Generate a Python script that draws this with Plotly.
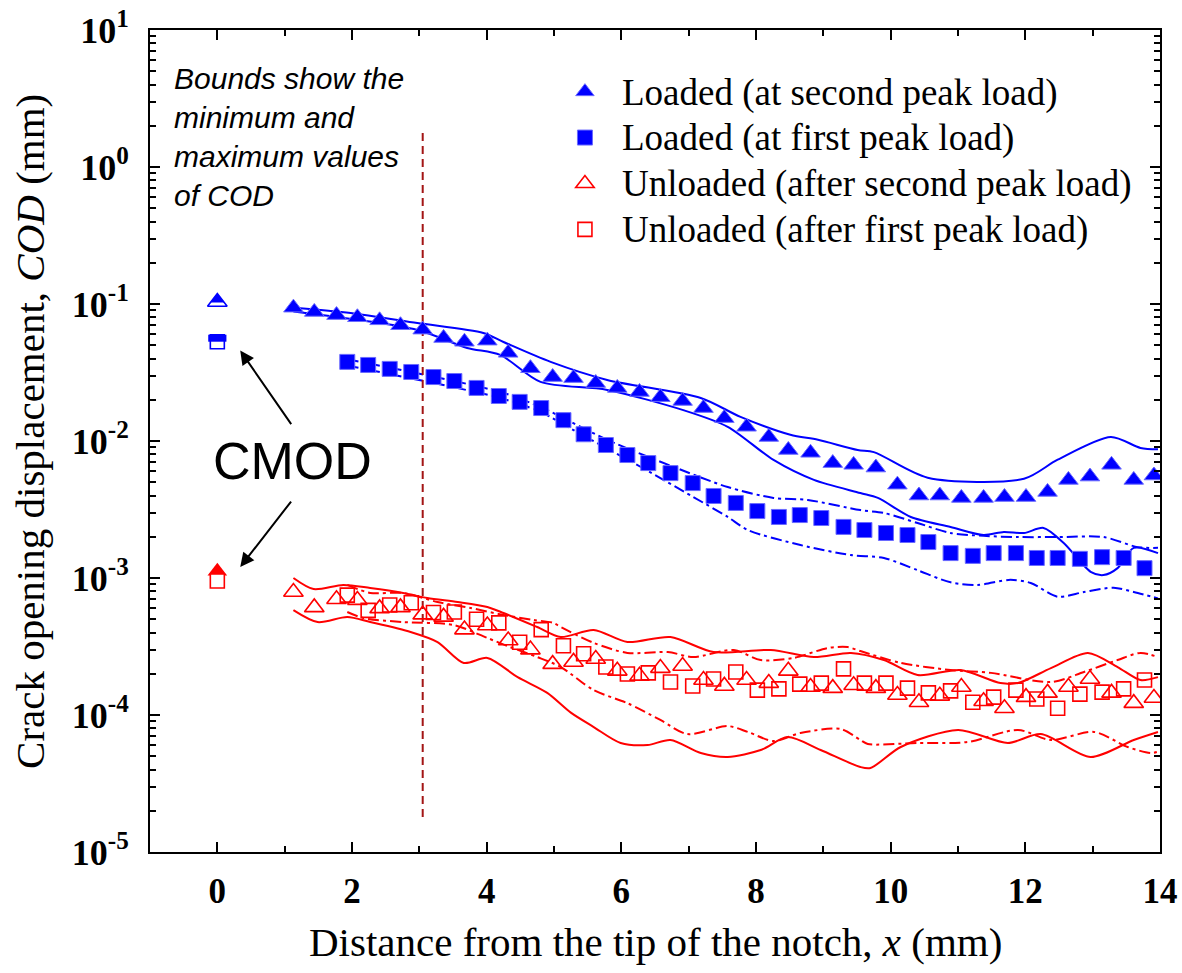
import plotly.graph_objects as go

# ---------------- data ----------------
x_tri = [1.13, 1.44, 1.77, 2.08, 2.41, 2.72, 3.05, 3.36, 3.67, 4.01, 4.32, 4.65, 4.98, 5.29,
         5.62, 5.94, 6.27, 6.58, 6.91, 7.22, 7.53, 7.86, 8.19, 8.48, 8.81, 9.14, 9.45, 9.78,
         10.10, 10.42, 10.73, 11.05, 11.38, 11.69, 12.01, 12.33, 12.64, 12.96, 13.28, 13.61, 13.91]
loaded_second = [0.094, 0.0875, 0.083, 0.080, 0.076, 0.070, 0.065, 0.0565, 0.053, 0.054, 0.044,
                 0.034, 0.0293, 0.0288, 0.0265, 0.0244, 0.0228, 0.0209, 0.0196, 0.0174, 0.0147,
                 0.0127, 0.0107, 0.0086, 0.0082, 0.0069, 0.0067, 0.0064, 0.0048, 0.0040, 0.0040,
                 0.00384, 0.00384, 0.0039, 0.0039, 0.00425, 0.0052, 0.0055, 0.0067, 0.0052, 0.0056]
unloaded_second = [7.9e-4, 6.1e-4, 7.0e-4, 6.9e-4, 6.0e-4, 6.1e-4, 5.4e-4, 5.2e-4, 4.2e-4, 4.5e-4,
                   3.5e-4, 3.0e-4, 2.35e-4, 2.44e-4, 2.56e-4, 2.1e-4, 1.93e-4, 2.2e-4, 2.28e-4,
                   1.8e-4, 1.63e-4, 1.8e-4, 1.71e-4, 2.1e-4, 1.6e-4, 1.57e-4, 1.65e-4, 1.57e-4,
                   1.4e-4, 1.24e-4, 1.38e-4, 1.6e-4, 1.26e-4, 1.12e-4, 1.35e-4, 1.45e-4, 1.6e-4,
                   1.83e-4, 1.45e-4, 1.22e-4, 1.33e-4]

x_sq = [1.93, 2.24, 2.56, 2.88, 3.21, 3.52, 3.85, 4.18, 4.49, 4.81, 5.14, 5.44, 5.77, 6.09, 6.40,
        6.73, 7.06, 7.37, 7.70, 8.02, 8.34, 8.65, 8.97, 9.30, 9.61, 9.93, 10.25, 10.56, 10.89,
        11.22, 11.53, 11.86, 12.17, 12.48, 12.81, 13.14, 13.46, 13.77]
loaded_first = [0.0378, 0.0359, 0.0336, 0.0319, 0.0293, 0.0274, 0.0244, 0.0213, 0.0193, 0.0174,
                0.0142, 0.0112, 0.00935, 0.0079, 0.0069, 0.00583, 0.00493, 0.00397, 0.00353,
                0.00308, 0.00279, 0.00288, 0.00274, 0.00236, 0.00224, 0.00213, 0.00206, 0.00183,
                0.00152, 0.00145, 0.00152, 0.00152, 0.0014, 0.0014, 0.00138, 0.00142, 0.0014, 0.00118]
unloaded_first = [7.5e-4, 5.8e-4, 6.35e-4, 6.6e-4, 5.6e-4, 5.65e-4, 5.0e-4, 4.7e-4, 3.4e-4, 4.2e-4,
                  3.2e-4, 2.8e-4, 2.24e-4, 1.99e-4, 2.03e-4, 1.74e-4, 1.63e-4, 1.83e-4, 2.06e-4,
                  1.52e-4, 1.55e-4, 1.68e-4, 1.71e-4, 2.17e-4, 1.71e-4, 1.71e-4, 1.57e-4, 1.45e-4,
                  1.5e-4, 1.24e-4, 1.35e-4, 1.52e-4, 1.31e-4, 1.12e-4, 1.42e-4, 1.47e-4, 1.55e-4, 1.8e-4]

# bounds (min / max) -- loaded, second peak (solid blue)
bls_max_x = [1.13, 1.98, 2.97, 3.95, 4.25, 4.95, 5.79, 7.18, 7.77, 8.51, 8.92, 9.51, 9.75, 10.55,
             11.98, 12.48, 13.27, 13.71, 13.97]
bls_max_y = [0.094, 0.086, 0.0726, 0.0614, 0.0528, 0.0378, 0.0279, 0.0206, 0.0150, 0.0111, 0.0102,
             0.0086, 0.0083, 0.0054, 0.0053, 0.0073, 0.0107, 0.0089, 0.0087]
bls_min_x = [1.13, 2.97, 3.71, 4.2, 4.8, 5.79, 6.92, 7.58, 8.26, 8.86, 9.55, 9.81, 10.30, 10.89,
             11.38, 11.68, 11.98, 12.27, 12.57, 12.97, 13.16, 13.37, 13.61, 13.97]
bls_min_y = [0.088, 0.0646, 0.0478, 0.0425, 0.027, 0.0236, 0.0168, 0.0127, 0.00727, 0.0052, 0.00417,
             0.00384, 0.00279, 0.00236, 0.00206, 0.00217, 0.00213, 0.00232, 0.0018, 0.00111,
             0.00105, 0.00118, 0.00166, 0.00152]
# loaded, first peak (dash-dot blue)
blf_max_x = [1.93, 4.2, 4.8, 5.79, 6.78, 7.58, 8.26, 8.77, 9.55, 9.90, 10.40, 10.89, 11.38, 11.89,
             12.48, 13.16, 13.67, 13.97]
blf_max_y = [0.0395, 0.0228, 0.0177, 0.0102, 0.00646, 0.00461, 0.00384, 0.00371, 0.00313, 0.00298,
             0.00252, 0.00213, 0.00203, 0.00199, 0.00199, 0.00199, 0.00168, 0.00166]
blf_min_x = [1.93, 4.2, 4.8, 5.29, 6.29, 7.07, 7.58, 7.88, 8.66, 9.41, 9.90, 10.40, 10.89, 11.29,
             11.78, 12.08, 12.48, 12.87, 13.31, 13.61, 13.97]
blf_min_y = [0.0355, 0.0206, 0.0163, 0.0120, 0.00646, 0.0039, 0.00279, 0.00224, 0.00174, 0.00147,
             0.0014, 0.00114, 0.00093, 0.00089, 0.00097, 0.00092, 0.00073, 0.00079, 0.00085,
             0.00079, 0.00071]
# unloaded, second peak (solid red)
uls_max_x = [1.13, 1.43, 1.87, 2.27, 2.76, 3.12, 3.57, 4.01, 4.25, 4.75, 5.10, 5.59, 6.09, 6.73,
             7.37, 8.22, 8.86, 9.41, 9.90, 10.40, 11.04, 11.63, 11.89, 12.38, 12.93, 13.37, 13.71, 13.97]
uls_max_y = [1.0e-3, 8.3e-4, 8.9e-4, 8.45e-4, 7.78e-4, 7.15e-4, 6.68e-4, 6.14e-4, 5.55e-4, 4.39e-4,
             3.71e-4, 4.17e-4, 3.41e-4, 3.71e-4, 2.88e-4, 2.98e-4, 2.65e-4, 2.84e-4, 2.52e-4,
             1.96e-4, 2.13e-4, 1.71e-4, 1.71e-4, 2.2e-4, 2.84e-4, 2.24e-4, 1.8e-4, 1.89e-4]
uls_min_x = [1.13, 1.49, 1.93, 2.27, 2.87, 3.27, 3.66, 4.01, 4.46, 4.90, 5.25, 5.59, 5.99, 6.39,
             6.73, 7.18, 7.58, 8.07, 8.47, 8.96, 9.55, 9.70, 10.15, 11.0, 11.74, 12.23, 12.97,
             13.61, 13.97]
uls_min_y = [5.83e-4, 4.77e-4, 5.19e-4, 4.77e-4, 4.04e-4, 3.41e-4, 2.4e-4, 2.61e-4, 1.89e-4,
             1.45e-4, 1.04e-4, 8.17e-5, 6.25e-5, 6.04e-5, 6.57e-5, 5.28e-5, 4.94e-5, 5.55e-5,
             6.9e-5, 5.55e-5, 4.17e-5, 4.1e-5, 5.84e-5, 7.78e-5, 6.25e-5, 7.26e-5, 4.94e-5,
             6.57e-5, 7.52e-5]
# unloaded, first peak (dash-dot red)
ulf_max_x = [1.93, 2.27, 2.76, 3.27, 3.76, 4.25, 4.70, 4.99, 5.10, 5.59, 6.09, 6.69, 7.07, 7.67,
             8.07, 8.56, 9.06, 9.36, 9.55, 10.15, 10.89, 11.49, 12.38, 12.87, 13.37, 13.71, 13.97]
ulf_max_y = [8.9e-4, 7.78e-4, 7.78e-4, 6.68e-4, 6.04e-4, 5.37e-4, 4.94e-4, 4.7e-4, 4.39e-4,
             3.36e-4, 2.84e-4, 2.88e-4, 2.65e-4, 2.98e-4, 2.52e-4, 2.61e-4, 3.08e-4, 3.13e-4,
             2.93e-4, 2.4e-4, 2.13e-4, 2.03e-4, 1.74e-4, 2.06e-4, 2.52e-4, 2.84e-4, 2.65e-4]
ulf_min_x = [1.93, 2.17, 2.76, 3.51, 4.01, 4.35, 4.75, 5.10, 5.59, 6.09, 6.58, 6.98, 7.58, 7.88,
             8.26, 8.66, 9.26, 9.55, 9.66, 10.40, 11.14, 11.89, 12.38, 13.02, 13.52, 13.86, 13.97]
ulf_min_y = [5.65e-4, 5.1e-4, 4.77e-4, 4.54e-4, 3.65e-4, 3.13e-4, 2.65e-4, 2.24e-4, 1.52e-4,
             1.22e-4, 9.2e-5, 7.26e-5, 8.3e-5, 7.52e-5, 6.46e-5, 7.39e-5, 7.9e-5, 6.57e-5, 6.14e-5,
             6.25e-5, 6.35e-5, 7.78e-5, 6.57e-5, 7.52e-5, 5.84e-5, 5.28e-5, 5.4e-5]

# CMOD values at x = 0
cmod_x = [0]
cmod_loaded_second = [0.1035]
cmod_loaded_first = [0.053]
cmod_unloaded_second = [1.12e-3]
cmod_unloaded_first = [9.5e-4]

notch_line_x = [3.05, 3.05]
notch_line_y = [1.77, 1.66e-5]

legend_names = ["Loaded (at second peak load)", "Loaded (at first peak load)",
                "Unloaded (after second peak load)", "Unloaded (after first peak load)"]

x_tickvals = [0, 2, 4, 6, 8, 10, 12, 14]
x_ticktext = ["<b>%d</b>" % v for v in x_tickvals]
y_tickvals = [1e-5, 1e-4, 1e-3, 1e-2, 1e-1, 1e0, 1e1]
y_ticktext = ["<b>10<sup>-5</sup></b>", "<b>10<sup>-4</sup></b>", "<b>10<sup>-3</sup></b>",
              "<b>10<sup>-2</sup></b>", "<b>10<sup>-1</sup></b>", "<b>10<sup>0</sup></b>",
              "<b>10<sup>1</sup></b>"]

BLUE = "#0000FF"
RED = "#FF0000"
SERIF = "Liberation Serif, Times New Roman, serif"
SANS = "Liberation Sans, Arial, sans-serif"
DASHDOT = "11px,4px,3px,4px"


def legend_label(s):
    return '<span style="font-size:37px">%s</span>' % s


fig = go.Figure()


def bound(x, y, color, dash):
    fig.add_trace(go.Scatter(x=x, y=y, mode="lines", showlegend=False, hoverinfo="skip",
                             line=dict(color=color, width=2, dash=dash, shape="spline", smoothing=0.8)))


bound(bls_max_x, bls_max_y, BLUE, "solid")
bound(bls_min_x, bls_min_y, BLUE, "solid")
bound(blf_max_x, blf_max_y, BLUE, DASHDOT)
bound(blf_min_x, blf_min_y, BLUE, DASHDOT)
bound(uls_max_x, uls_max_y, RED, "solid")
bound(uls_min_x, uls_min_y, RED, "solid")
bound(ulf_max_x, ulf_max_y, RED, DASHDOT)
bound(ulf_min_x, ulf_min_y, RED, DASHDOT)

# vertical dashed line
fig.add_trace(go.Scatter(x=notch_line_x, y=notch_line_y, mode="lines", showlegend=False,
                         hoverinfo="skip", line=dict(color="#A31515", width=2, dash="8px,5px")))

# main marker series
fig.add_trace(go.Scatter(x=x_tri, y=loaded_second, mode="markers", name=legend_label(legend_names[0]),
                         marker=dict(symbol="triangle-up", size=17, color=BLUE,
                                     line=dict(width=1, color="#6a6aff"))))
fig.add_trace(go.Scatter(x=x_sq, y=loaded_first, mode="markers", name=legend_label(legend_names[1]),
                         marker=dict(symbol="square", size=15, color=BLUE,
                                     line=dict(width=1, color="#6a6aff"))))
fig.add_trace(go.Scatter(x=x_tri, y=unloaded_second, mode="markers",
                         name=legend_label(legend_names[2]),
                         marker=dict(symbol="triangle-up-open", size=17, color=RED, line=dict(width=1.6))))
fig.add_trace(go.Scatter(x=x_sq, y=unloaded_first, mode="markers",
                         name=legend_label(legend_names[3]),
                         marker=dict(symbol="square-open", size=14, color=RED, line=dict(width=1.6))))

# CMOD markers (half-filled style)
fig.add_trace(go.Scatter(x=cmod_x, y=cmod_loaded_second, mode="markers", showlegend=False,
                         marker=dict(symbol="triangle-up-open", size=17, color=BLUE, line=dict(width=1.6))))
fig.add_trace(go.Scatter(x=cmod_x, y=[v * 10 ** 0.018 for v in cmod_loaded_second], mode="markers",
                         showlegend=False,
                         marker=dict(symbol="triangle-up", size=12, color=BLUE, line=dict(width=0))))
fig.add_trace(go.Scatter(x=cmod_x, y=cmod_loaded_first, mode="markers", showlegend=False,
                         marker=dict(symbol="square-open", size=14, color=BLUE, line=dict(width=1.6))))
fig.add_trace(go.Scatter(x=cmod_x, y=[v * 10 ** 0.026 for v in cmod_loaded_first], mode="markers",
                         showlegend=False,
                         marker=dict(symbol="line-ew", size=13, color=BLUE, line=dict(width=7, color=BLUE))))
fig.add_trace(go.Scatter(x=cmod_x, y=cmod_unloaded_second, mode="markers", showlegend=False,
                         marker=dict(symbol="triangle-up", size=17, color=RED, line=dict(width=0))))
fig.add_trace(go.Scatter(x=cmod_x, y=cmod_unloaded_first, mode="markers", showlegend=False,
                         marker=dict(symbol="square", size=14, color="white", line=dict(width=1.6, color=RED))))

axis_common = dict(showline=True, linewidth=2, linecolor="black", mirror="ticks", ticks="inside",
                   tickcolor="black", tickwidth=2, showgrid=False, zeroline=False, automargin=False,
                   ticklabeloverflow="allow")

fig.update_xaxes(range=[-1, 14], tickmode="array", tickvals=x_tickvals, ticktext=x_ticktext, ticklen=10,
                 minor=dict(ticks="inside", tickmode="linear", dtick=1, tick0=-1, ticklen=6,
                            tickcolor="black", tickwidth=1.5),
                 tickfont=dict(family=SERIF, size=35, color="black"),
                 ticklabelstandoff=7,
                 **axis_common)

minor_vals = [m * 10 ** e for e in range(-5, 1) for m in range(2, 10)]
fig.update_yaxes(type="log", range=[-5, 1], tickmode="array", tickvals=y_tickvals, ticktext=y_ticktext,
                 ticklen=10,
                 minor=dict(ticks="inside", tickmode="array", tickvals=minor_vals, ticklen=6,
                            tickcolor="black", tickwidth=1.5),
                 tickfont=dict(family=SERIF, size=36, color="black"),
                 ticklabelstandoff=12,
                 **axis_common)

# plot area at x 150..1160 and y 30..852 of the 1182x973 window
fig.update_layout(
    width=1182, height=973,
    margin=dict(l=150, r=22, t=30, b=121),
    paper_bgcolor="white", plot_bgcolor="white",
    legend=dict(x=0.394, y=0.959, xanchor="left", yanchor="top", bgcolor="rgba(0,0,0,0)",
                font=dict(family=SERIF, size=33, color="black"), itemwidth=64, tracegroupgap=0),
    annotations=[
        dict(text="Distance from the tip of the notch, <i>x</i> (mm)", xref="paper", yref="paper",
             x=0.5, y=-0.1095, xanchor="center", yanchor="middle", showarrow=False,
             font=dict(family=SERIF, size=41, color="black")),
        dict(text="Crack opening displacement, <i>COD</i> (mm)", xref="paper", yref="paper",
             x=-0.1188, y=0.511, xanchor="center", yanchor="middle", textangle=-90, showarrow=False,
             font=dict(family=SERIF, size=41, color="black")),
        dict(text="Bounds show the<br>minimum and<br>maximum values<br>of COD", xref="paper",
             yref="paper", x=0.0218, y=0.9635, xanchor="left", yanchor="top", align="left",
             showarrow=False, font=dict(family=SANS, size=30, color="black", style="italic")),
        dict(text="CMOD", xref="x", yref="y", x=1.12, y=-2.146, showarrow=False,
             font=dict(family=SANS, size=52, color="black")),
        dict(text="", xref="x", yref="y", x=0.34, y=-1.34, ax=52, ay=75, showarrow=True,
             arrowhead=2, arrowsize=1.4, arrowwidth=2, arrowcolor="black"),
        dict(text="", xref="x", yref="y", x=0.34, y=-2.92, ax=52, ay=-67, showarrow=True,
             arrowhead=2, arrowsize=1.4, arrowwidth=2, arrowcolor="black"),
    ],
)

fig.write_html("out.html", config={"displayModeBar": False},
               post_script="document.body.style.margin = '0';")
